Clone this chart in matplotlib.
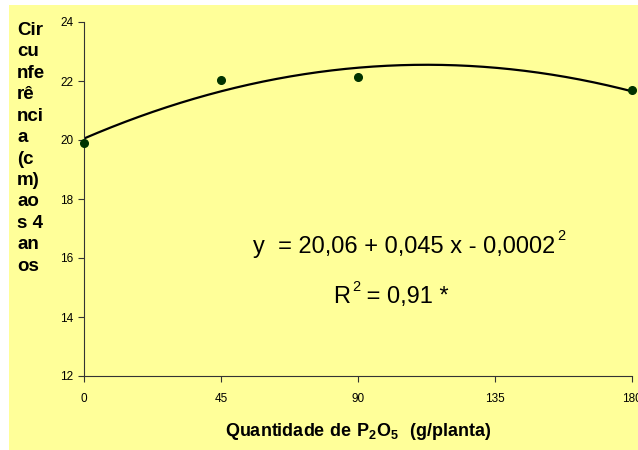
import numpy as np
import matplotlib.pyplot as plt
from matplotlib.patches import Rectangle

# Dados
doses = [0, 45, 90, 180]
circunferencia = [19.9, 22.05, 22.15, 21.7]
xticks = [0, 45, 90, 135, 180]
yticks = [12, 14, 16, 18, 20, 22, 24]

amarelo = "#FFFF99"
plt.rcParams['font.family'] = ['Liberation Sans', 'DejaVu Sans']
plt.rcParams['mathtext.fontset'] = 'custom'
plt.rcParams['mathtext.rm'] = 'Liberation Sans'
plt.rcParams['mathtext.bf'] = 'Liberation Sans:bold'

fig = plt.figure(figsize=(6.38, 4.5), dpi=100)
fig.patches.append(Rectangle((9 / 638, 0), 1, 1 - 5 / 450, transform=fig.transFigure,
                             facecolor=amarelo, edgecolor="none", zorder=-10))
ax = fig.add_axes([84 / 638, 1 - 376 / 450, 548 / 638, 354 / 450])
ax.set_facecolor(amarelo)

# linha de tendência polinomial (grau 2)
coef = np.polyfit(doses, circunferencia, 2)
xs = np.linspace(0, 180, 200)
ax.plot(xs, np.polyval(coef, xs), color="black", lw=1.6, zorder=2)
ax.plot(doses, circunferencia, "o", color="#003300", ms=5.5, zorder=3, clip_on=False)

ax.set_xlim(0, 180)
ax.set_ylim(12, 24)
ax.set_xticks(xticks)
ax.set_yticks(yticks)
ax.tick_params(labelsize=8.5, length=4, width=0.8, color="#333333")
ax.tick_params(axis="x", pad=8)
ax.spines["top"].set_visible(False)
ax.spines["right"].set_visible(False)
for s in ["left", "bottom"]:
    ax.spines[s].set_color("#333333")

ax.set_xlabel(r"$\mathbf{Quantidade\ de\ P_2O_5\ \ (g/planta)}$", fontsize=13, labelpad=12)

rotulo_y = "Cir\ncu\nnfe\nrê\nnci\na\n(c\nm)\nao\ns 4\nan\nos"
fig.text(17 / 638, 1 - 22 / 450, rotulo_y, fontsize=13.5, fontweight="bold",
         ha="left", va="top", linespacing=1.34)

ax.text(55.5, 16.37, "y  = 20,06 + 0,045 x - 0,0002", fontsize=17, va="center")
ax.text(155.3, 16.75, "2", fontsize=10.5, va="center")
ax.text(81.8, 14.68, "R", fontsize=17, va="center")
ax.text(88.0, 15.02, "2", fontsize=10.5, va="center")
ax.text(90.5, 14.68, " = 0,91 *", fontsize=17, va="center")

fig.savefig("out.png", dpi=100)
